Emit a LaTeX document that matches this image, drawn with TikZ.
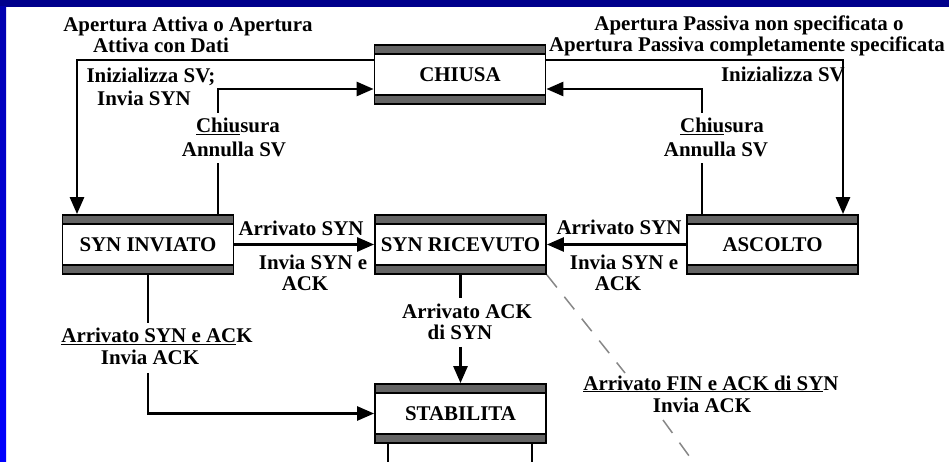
\documentclass[tikz,border=0pt]{standalone}
\usepackage{fontspec}
\setmainfont{Liberation Serif}
\usetikzlibrary{arrows.meta,calc}
\definecolor{navyb}{RGB}{0,0,140}
\definecolor{blueb}{RGB}{0,0,255}
\definecolor{blueu}{RGB}{0,0,175}
\definecolor{barcol}{RGB}{100,100,100}
\definecolor{dashcol}{RGB}{135,135,135}
\begin{document}
\begin{tikzpicture}[x=1bp,y=-1bp,
  conn/.style={line width=2.7bp},
  arr/.style={-{Triangle[length=17bp,width=14bp]}},
  lab/.style={anchor=base, inner sep=0pt, font=\bfseries\fontsize{21}{23}\selectfont},
  state/.style={draw, line width=1.8bp, fill=white, minimum width=171bp, minimum height=59bp,
    inner sep=0pt, font=\bfseries\fontsize{21}{23}\selectfont,
    path picture={
      \fill[barcol] (path picture bounding box.north west) rectangle ([yshift=-9bp]path picture bounding box.north east);
      \fill[barcol] (path picture bounding box.south west) rectangle ([yshift=9bp]path picture bounding box.south east);
      \draw[line width=1.8bp] ([yshift=-9bp]path picture bounding box.north west) -- ([yshift=-9bp]path picture bounding box.north east);
      \draw[line width=1.8bp] ([yshift=9bp]path picture bounding box.south west) -- ([yshift=9bp]path picture bounding box.south east);
    }}]
\useasboundingbox (0,0) rectangle (949,462);
\fill[white] (0,0) rectangle (949,462);
\fill[navyb] (0,0) rectangle (949,7);
\shade[top color=blueu, bottom color=blueb] (0,7) rectangle (6,462);

% states
\node[state] (chiusa) at (460,74.5) {CHIUSA};
\node[state] (sinv) at (148,244.5) {SYN INVIATO};
\node[state] (sric) at (460.5,244.5) {SYN RICEVUTO};
\node[state] (asc) at (772.5,244.5) {ASCOLTO};
\node[state] (stab) at (460.5,413.5) {STABILITA};

% labels
\node[lab] (tA1) at (188,32) {Apertura Attiva o Apertura};
\node[lab] (tA2) at (161,53) {Attiva con Dati};
\node[lab] (tI1) at (151,83) {Inizializza SV;};
\node[lab] (tI2) at (144,106) {Invia SYN};
\node[lab] (tC1) at (238,133) {\underline{Chiu}sura};
\node[lab] (tC2) at (234,157) {Annulla SV};
\node[lab] (tP1) at (749,31) {Apertura Passiva non specificata o};
\node[lab, anchor=base east] (tP2) at (945,52) {Apertura Passiva completamente specificata};
\node[lab, anchor=base east] (tIr) at (845,82) {Inizializza SV};
\node[lab] (tCr1) at (722,133) {\underline{Chiu}sura};
\node[lab] (tCr2) at (716,157) {Annulla SV};
\node[lab] (tS1) at (301,236) {Arrivato SYN};
\node[lab] (tS2) at (313,270) {Invia SYN e};
\node[lab] (tS3) at (305,291) {ACK};
\node[lab] (tR1) at (619,235) {Arrivato SYN};
\node[lab] (tR2) at (624,270) {Invia SYN e};
\node[lab] (tR3) at (618,291) {ACK};
\node[lab] (tE1) at (157,343) {\underline{Arrivato SYN e AC}K};
\node[lab] (tE2) at (150,365) {Invia ACK};
\node[lab] (tK1) at (467,319) {Arrivato ACK};
\node[lab] (tK2) at (460,340) {di SYN};
\node[lab] (tF1) at (711,390) {\underline{Arrivato FIN e ACK di SY}N};
\node[lab] (tF2) at (702,412) {Invia ACK};

% bend and break coordinates
\coordinate (b1) at (77,60);
\coordinate (b2) at (218,89);
\coordinate (g2a) at (218,163);
\coordinate (g2b) at (218,113);
\coordinate (b3) at (843,60);
\coordinate (b4) at (702,89);
\coordinate (g4a) at (702,163);
\coordinate (g4b) at (702,113);
\coordinate (b7) at (148,413.5);
\coordinate (g7a) at (148,323);
\coordinate (g7b) at (148,373);
\coordinate (g8a) at (460.5,298);
\coordinate (g8b) at (460.5,347);
\coordinate (d1) at (625,373);
\coordinate (d2) at (663,420);
\coordinate (d3) at (700,471);
\coordinate (e1) at (388,470);
\coordinate (e2) at (532,470);

% connectors
\draw[conn,arr] (chiusa.west |- b1) -- (b1) -- (b1 |- sinv.north);
\draw[conn] (b2 |- sinv.north) -- (g2a);
\draw[conn,arr] (g2b) -- (b2) -- (chiusa.west |- b2);
\draw[conn,arr] (chiusa.east |- b3) -- (b3) -- (b3 |- asc.north);
\draw[conn] (b4 |- asc.north) -- (g4a);
\draw[conn,arr] (g4b) -- (b4) -- (chiusa.east |- b4);
\draw[conn,arr] (sinv.east) -- (sric.west);
\draw[conn,arr] (asc.west) -- (sric.east);
\draw[conn] (sinv.south) -- (g7a);
\draw[conn,arr] (g7b) -- (b7) -- (stab.west);
\draw[conn] (sric.south) -- (g8a);
\draw[conn,arr] (g8b) -- (stab.north);
\draw[dashcol, line width=1.5bp, dash pattern=on 16bp off 12bp] (sric.south east) -- (d1);
\draw[dashcol, line width=1.5bp, dash pattern=on 16bp off 12bp] (d2) -- (d3);
\draw[conn] (stab.south -| e1) -- (e1);
\draw[conn] (stab.south -| e2) -- (e2);
\end{tikzpicture}
\end{document}
